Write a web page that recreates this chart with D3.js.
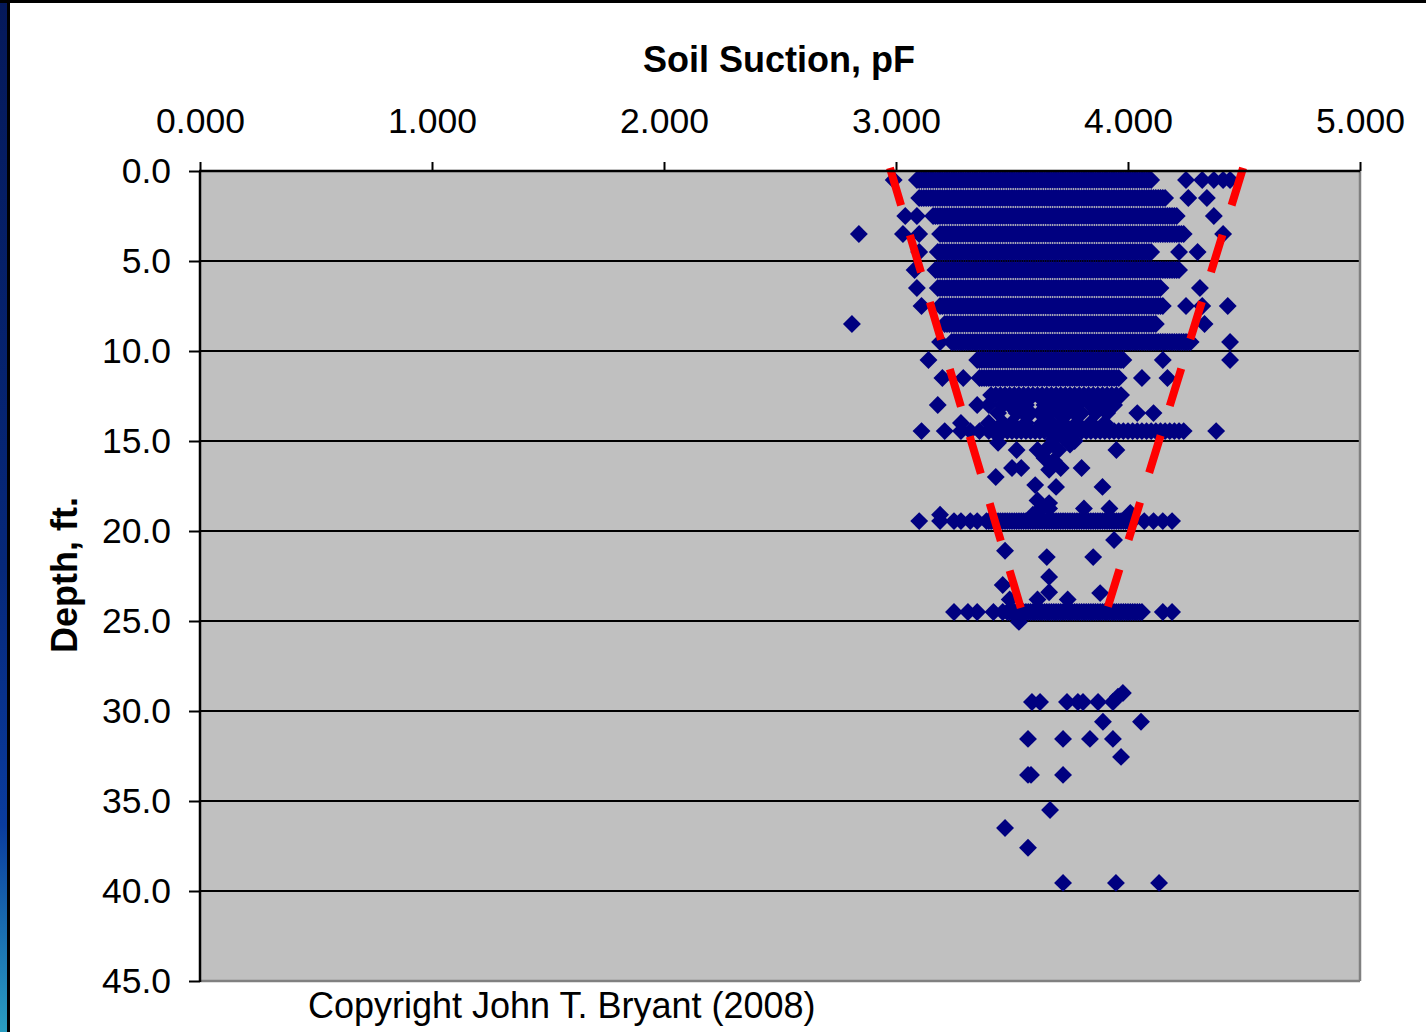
<!DOCTYPE html>
<html>
<head>
<meta charset="utf-8">
<script src="https://cdn.jsdelivr.net/npm/d3@7"></script>
<style>
  html, body { margin: 0; padding: 0; background: #ffffff; }
  svg { display: block; }
  text { font-family: "Liberation Sans", Arial, sans-serif; fill: #000; }
</style>
</head>
<body>
<svg id="chart" width="1426" height="1032"></svg>
<script>
// Soil suction (pF) readings by depth (ft), recorded to 0.01 pF. Shallow depths
// were sampled in one-foot intervals; each list holds the readings at that depth.
const suction_0_5 = [2.99,
  3.09, 3.10, 3.11, 3.12, 3.13, 3.14, 3.15, 3.16, 3.17, 3.18, 3.19, 3.20, 3.21, 3.22, 3.23, 3.24, 3.25, 3.26, 3.27, 3.28, 3.29,
  3.30, 3.31, 3.32, 3.33, 3.34, 3.35, 3.36, 3.37, 3.38, 3.39, 3.40, 3.41, 3.42, 3.43, 3.44, 3.45, 3.46, 3.47, 3.48, 3.49,
  3.50, 3.51, 3.52, 3.53, 3.54, 3.55, 3.56, 3.57, 3.58, 3.59, 3.60, 3.61, 3.62, 3.63, 3.64, 3.65, 3.66, 3.67, 3.68, 3.69,
  3.70, 3.71, 3.72, 3.73, 3.74, 3.75, 3.76, 3.77, 3.78, 3.79, 3.80, 3.81, 3.82, 3.83, 3.84, 3.85, 3.86, 3.87, 3.88, 3.89,
  3.90, 3.91, 3.92, 3.93, 3.94, 3.95, 3.96, 3.97, 3.98, 3.99, 4.00, 4.01, 4.02, 4.03, 4.04, 4.05, 4.06, 4.07, 4.08, 4.09, 4.10,
  4.25, 4.32, 4.37, 4.41, 4.44];
const suction_1_5 = [
  3.10, 3.11, 3.12, 3.13, 3.14, 3.15, 3.16, 3.17, 3.18, 3.19, 3.20, 3.21, 3.22, 3.23, 3.24, 3.25, 3.26, 3.27, 3.28, 3.29,
  3.30, 3.31, 3.32, 3.33, 3.34, 3.35, 3.36, 3.37, 3.38, 3.39, 3.40, 3.41, 3.42, 3.43, 3.44, 3.45, 3.46, 3.47, 3.48, 3.49,
  3.50, 3.51, 3.52, 3.53, 3.54, 3.55, 3.56, 3.57, 3.58, 3.59, 3.60, 3.61, 3.62, 3.63, 3.64, 3.65, 3.66, 3.67, 3.68, 3.69,
  3.70, 3.71, 3.72, 3.73, 3.74, 3.75, 3.76, 3.77, 3.78, 3.79, 3.80, 3.81, 3.82, 3.83, 3.84, 3.85, 3.86, 3.87, 3.88, 3.89,
  3.90, 3.91, 3.92, 3.93, 3.94, 3.95, 3.96, 3.97, 3.98, 3.99, 4.00, 4.01, 4.02, 4.03, 4.04, 4.05, 4.06, 4.07, 4.08, 4.09,
  4.10, 4.11, 4.12, 4.13, 4.14, 4.15, 4.16,
  4.26, 4.34];
const suction_2_5 = [3.04, 3.09,
  3.16, 3.17, 3.18, 3.19, 3.20, 3.21, 3.22, 3.23, 3.24, 3.25, 3.26, 3.27, 3.28, 3.29,
  3.30, 3.31, 3.32, 3.33, 3.34, 3.35, 3.36, 3.37, 3.38, 3.39, 3.40, 3.41, 3.42, 3.43, 3.44, 3.45, 3.46, 3.47, 3.48, 3.49,
  3.50, 3.51, 3.52, 3.53, 3.54, 3.55, 3.56, 3.57, 3.58, 3.59, 3.60, 3.61, 3.62, 3.63, 3.64, 3.65, 3.66, 3.67, 3.68, 3.69,
  3.70, 3.71, 3.72, 3.73, 3.74, 3.75, 3.76, 3.77, 3.78, 3.79, 3.80, 3.81, 3.82, 3.83, 3.84, 3.85, 3.86, 3.87, 3.88, 3.89,
  3.90, 3.91, 3.92, 3.93, 3.94, 3.95, 3.96, 3.97, 3.98, 3.99, 4.00, 4.01, 4.02, 4.03, 4.04, 4.05, 4.06, 4.07, 4.08, 4.09,
  4.10, 4.11, 4.12, 4.13, 4.14, 4.15, 4.16, 4.17, 4.18, 4.19, 4.20, 4.21,
  4.37];
const suction_3_5 = [2.84, 3.03, 3.10,
  3.19, 3.20, 3.21, 3.22, 3.23, 3.24, 3.25, 3.26, 3.27, 3.28, 3.29,
  3.30, 3.31, 3.32, 3.33, 3.34, 3.35, 3.36, 3.37, 3.38, 3.39, 3.40, 3.41, 3.42, 3.43, 3.44, 3.45, 3.46, 3.47, 3.48, 3.49,
  3.50, 3.51, 3.52, 3.53, 3.54, 3.55, 3.56, 3.57, 3.58, 3.59, 3.60, 3.61, 3.62, 3.63, 3.64, 3.65, 3.66, 3.67, 3.68, 3.69,
  3.70, 3.71, 3.72, 3.73, 3.74, 3.75, 3.76, 3.77, 3.78, 3.79, 3.80, 3.81, 3.82, 3.83, 3.84, 3.85, 3.86, 3.87, 3.88, 3.89,
  3.90, 3.91, 3.92, 3.93, 3.94, 3.95, 3.96, 3.97, 3.98, 3.99, 4.00, 4.01, 4.02, 4.03, 4.04, 4.05, 4.06, 4.07, 4.08, 4.09,
  4.10, 4.11, 4.12, 4.13, 4.14, 4.15, 4.16, 4.17, 4.18, 4.19, 4.20, 4.21, 4.22, 4.23, 4.24,
  4.41];
const suction_4_5 = [3.10,
  3.18, 3.19, 3.20, 3.21, 3.22, 3.23, 3.24, 3.25, 3.26, 3.27, 3.28, 3.29,
  3.30, 3.31, 3.32, 3.33, 3.34, 3.35, 3.36, 3.37, 3.38, 3.39, 3.40, 3.41, 3.42, 3.43, 3.44, 3.45, 3.46, 3.47, 3.48, 3.49,
  3.50, 3.51, 3.52, 3.53, 3.54, 3.55, 3.56, 3.57, 3.58, 3.59, 3.60, 3.61, 3.62, 3.63, 3.64, 3.65, 3.66, 3.67, 3.68, 3.69,
  3.70, 3.71, 3.72, 3.73, 3.74, 3.75, 3.76, 3.77, 3.78, 3.79, 3.80, 3.81, 3.82, 3.83, 3.84, 3.85, 3.86, 3.87, 3.88, 3.89,
  3.90, 3.91, 3.92, 3.93, 3.94, 3.95, 3.96, 3.97, 3.98, 3.99, 4.00, 4.01, 4.02, 4.03, 4.04, 4.05, 4.06, 4.07, 4.08, 4.09, 4.10,
  4.22, 4.30];
const suction_5_5 = [3.08,
  3.17, 3.18, 3.19, 3.20, 3.21, 3.22, 3.23, 3.24, 3.25, 3.26, 3.27, 3.28, 3.29,
  3.30, 3.31, 3.32, 3.33, 3.34, 3.35, 3.36, 3.37, 3.38, 3.39, 3.40, 3.41, 3.42, 3.43, 3.44, 3.45, 3.46, 3.47, 3.48, 3.49,
  3.50, 3.51, 3.52, 3.53, 3.54, 3.55, 3.56, 3.57, 3.58, 3.59, 3.60, 3.61, 3.62, 3.63, 3.64, 3.65, 3.66, 3.67, 3.68, 3.69,
  3.70, 3.71, 3.72, 3.73, 3.74, 3.75, 3.76, 3.77, 3.78, 3.79, 3.80, 3.81, 3.82, 3.83, 3.84, 3.85, 3.86, 3.87, 3.88, 3.89,
  3.90, 3.91, 3.92, 3.93, 3.94, 3.95, 3.96, 3.97, 3.98, 3.99, 4.00, 4.01, 4.02, 4.03, 4.04, 4.05, 4.06, 4.07, 4.08, 4.09,
  4.10, 4.11, 4.12, 4.13, 4.14, 4.15, 4.16, 4.17, 4.18, 4.19, 4.20, 4.21, 4.22];
const suction_6_5 = [3.09,
  3.18, 3.19, 3.20, 3.21, 3.22, 3.23, 3.24, 3.25, 3.26, 3.27, 3.28, 3.29,
  3.30, 3.31, 3.32, 3.33, 3.34, 3.35, 3.36, 3.37, 3.38, 3.39, 3.40, 3.41, 3.42, 3.43, 3.44, 3.45, 3.46, 3.47, 3.48, 3.49,
  3.50, 3.51, 3.52, 3.53, 3.54, 3.55, 3.56, 3.57, 3.58, 3.59, 3.60, 3.61, 3.62, 3.63, 3.64, 3.65, 3.66, 3.67, 3.68, 3.69,
  3.70, 3.71, 3.72, 3.73, 3.74, 3.75, 3.76, 3.77, 3.78, 3.79, 3.80, 3.81, 3.82, 3.83, 3.84, 3.85, 3.86, 3.87, 3.88, 3.89,
  3.90, 3.91, 3.92, 3.93, 3.94, 3.95, 3.96, 3.97, 3.98, 3.99, 4.00, 4.01, 4.02, 4.03, 4.04, 4.05, 4.06, 4.07, 4.08, 4.09,
  4.10, 4.11, 4.12, 4.13, 4.14,
  4.31];
const suction_7_5 = [3.11,
  3.19, 3.20, 3.21, 3.22, 3.23, 3.24, 3.25, 3.26, 3.27, 3.28, 3.29,
  3.30, 3.31, 3.32, 3.33, 3.34, 3.35, 3.36, 3.37, 3.38, 3.39, 3.40, 3.41, 3.42, 3.43, 3.44, 3.45, 3.46, 3.47, 3.48, 3.49,
  3.50, 3.51, 3.52, 3.53, 3.54, 3.55, 3.56, 3.57, 3.58, 3.59, 3.60, 3.61, 3.62, 3.63, 3.64, 3.65, 3.66, 3.67, 3.68, 3.69,
  3.70, 3.71, 3.72, 3.73, 3.74, 3.75, 3.76, 3.77, 3.78, 3.79, 3.80, 3.81, 3.82, 3.83, 3.84, 3.85, 3.86, 3.87, 3.88, 3.89,
  3.90, 3.91, 3.92, 3.93, 3.94, 3.95, 3.96, 3.97, 3.98, 3.99, 4.00, 4.01, 4.02, 4.03, 4.04, 4.05, 4.06, 4.07, 4.08, 4.09,
  4.10, 4.11, 4.12, 4.13, 4.14, 4.15,
  4.25, 4.32, 4.43];
const suction_8_5 = [2.81,
  3.21, 3.22, 3.23, 3.24, 3.25, 3.26, 3.27, 3.28, 3.29,
  3.30, 3.31, 3.32, 3.33, 3.34, 3.35, 3.36, 3.37, 3.38, 3.39, 3.40, 3.41, 3.42, 3.43, 3.44, 3.45, 3.46, 3.47, 3.48, 3.49,
  3.50, 3.51, 3.52, 3.53, 3.54, 3.55, 3.56, 3.57, 3.58, 3.59, 3.60, 3.61, 3.62, 3.63, 3.64, 3.65, 3.66, 3.67, 3.68, 3.69,
  3.70, 3.71, 3.72, 3.73, 3.74, 3.75, 3.76, 3.77, 3.78, 3.79, 3.80, 3.81, 3.82, 3.83, 3.84, 3.85, 3.86, 3.87, 3.88, 3.89,
  3.90, 3.91, 3.92, 3.93, 3.94, 3.95, 3.96, 3.97, 3.98, 3.99, 4.00, 4.01, 4.02, 4.03, 4.04, 4.05, 4.06, 4.07, 4.08, 4.09,
  4.10, 4.11, 4.12,
  4.33];
const suction_9_5 = [3.19,
  3.24, 3.25, 3.26, 3.27, 3.28, 3.29,
  3.30, 3.31, 3.32, 3.33, 3.34, 3.35, 3.36, 3.37, 3.38, 3.39, 3.40, 3.41, 3.42, 3.43, 3.44, 3.45, 3.46, 3.47, 3.48, 3.49,
  3.50, 3.51, 3.52, 3.53, 3.54, 3.55, 3.56, 3.57, 3.58, 3.59, 3.60, 3.61, 3.62, 3.63, 3.64, 3.65, 3.66, 3.67, 3.68, 3.69,
  3.70, 3.71, 3.72, 3.73, 3.74, 3.75, 3.76, 3.77, 3.78, 3.79, 3.80, 3.81, 3.82, 3.83, 3.84, 3.85, 3.86, 3.87, 3.88, 3.89,
  3.90, 3.91, 3.92, 3.93, 3.94, 3.95, 3.96, 3.97, 3.98, 3.99, 4.00, 4.01, 4.02, 4.03, 4.04, 4.05, 4.06, 4.07, 4.08, 4.09,
  4.10, 4.11, 4.12, 4.13, 4.14, 4.15, 4.16, 4.17, 4.18, 4.19, 4.20, 4.21, 4.22, 4.23, 4.24, 4.25, 4.26, 4.27,
  4.44];
const suction_10_5 = [3.14,
  3.35, 3.36, 3.37, 3.38, 3.39, 3.40, 3.41, 3.42, 3.43, 3.44, 3.45, 3.46, 3.47, 3.48, 3.49,
  3.50, 3.51, 3.52, 3.53, 3.54, 3.55, 3.56, 3.57, 3.58, 3.59, 3.60, 3.61, 3.62, 3.63, 3.64, 3.65, 3.66, 3.67, 3.68, 3.69,
  3.70, 3.71, 3.72, 3.73, 3.74, 3.75, 3.76, 3.77, 3.78, 3.79, 3.80, 3.81, 3.82, 3.83, 3.84, 3.85, 3.86, 3.87, 3.88, 3.89,
  3.90, 3.91, 3.92, 3.93, 3.94, 3.95, 3.96, 3.97, 3.98,
  4.15, 4.44];
const suction_11_5 = [3.20, 3.29,
  3.36, 3.37, 3.38, 3.39, 3.40, 3.41, 3.42, 3.43, 3.44, 3.45, 3.46, 3.47, 3.48, 3.49,
  3.50, 3.51, 3.52, 3.53, 3.54, 3.55, 3.56, 3.57, 3.58, 3.59, 3.60, 3.61, 3.62, 3.63, 3.64, 3.65, 3.66, 3.67, 3.68, 3.69,
  3.70, 3.71, 3.72, 3.73, 3.74, 3.75, 3.76, 3.77, 3.78, 3.79, 3.80, 3.81, 3.82, 3.83, 3.84, 3.85, 3.86, 3.87, 3.88, 3.89,
  3.90, 3.91, 3.92, 3.93, 3.94, 3.95, 3.96,
  4.06, 4.17];
const suction_12_45 = [3.41, 3.43, 3.45, 3.47, 3.49, 3.51, 3.53, 3.55, 3.57, 3.59, 3.61, 3.63, 3.65, 3.67, 3.69,
  3.71, 3.73, 3.75, 3.77, 3.79, 3.81, 3.83, 3.85, 3.87, 3.89, 3.91, 3.93, 3.95, 3.97];
const suction_13_0 = [3.18, 3.35, 3.40, 3.46, 3.49, 3.52, 3.56, 3.64, 3.68, 3.72, 3.75, 3.78, 3.84, 3.88, 3.94];
const suction_13_45 = [3.44, 3.52, 3.55, 3.58, 3.62, 3.66, 3.70, 3.74, 3.77, 3.80, 3.86, 3.91, 4.04, 4.11];
const suction_14_0 = [3.28, 3.40, 3.46, 3.50, 3.56, 3.63, 3.67, 3.72, 3.78, 3.84, 3.90];
const suction_14_45 = [3.11, 3.21, 3.28, 3.32, 3.36,
  3.40, 3.42, 3.44, 3.46, 3.48, 3.50, 3.52, 3.54, 3.56, 3.58, 3.60, 3.62, 3.64, 3.66, 3.68, 3.70, 3.72, 3.74, 3.76, 3.78,
  3.80, 3.82, 3.84, 3.86, 3.88, 3.90, 3.92, 3.94, 3.96, 3.98, 4.00, 4.02, 4.04, 4.06, 4.08, 4.10, 4.12, 4.14, 4.16, 4.18,
  4.20, 4.22, 4.24, 4.38];
const suction_19_45 = [3.10, 3.19, 3.25, 3.28, 3.32, 3.35,
  3.39, 3.40, 3.41, 3.42, 3.43, 3.44, 3.45, 3.46, 3.47, 3.48, 3.49,
  3.50, 3.51, 3.52, 3.53, 3.54, 3.55, 3.56, 3.57, 3.58, 3.59, 3.60, 3.61, 3.62, 3.63, 3.64, 3.65, 3.66, 3.67, 3.68, 3.69,
  3.70, 3.71, 3.72, 3.73, 3.74, 3.75, 3.76, 3.77, 3.78, 3.79, 3.80, 3.81, 3.82, 3.83, 3.84, 3.85, 3.86, 3.87, 3.88, 3.89,
  3.90, 3.91, 3.92, 3.93, 3.94, 3.95, 3.96, 3.97, 3.98, 3.99, 4.00, 4.01, 4.02,
  4.07, 4.11, 4.15, 4.19];
const suction_24_5 = [3.25, 3.31, 3.35, 3.42, 3.46,
  3.48, 3.49, 3.50, 3.51, 3.52, 3.53, 3.54, 3.55, 3.56, 3.57, 3.58, 3.59, 3.60, 3.61, 3.62, 3.63, 3.64, 3.65, 3.66, 3.67, 3.68, 3.69,
  3.70, 3.71, 3.72, 3.73, 3.74, 3.75, 3.76, 3.77, 3.78, 3.79, 3.80, 3.81, 3.82, 3.83, 3.84, 3.85, 3.86, 3.87, 3.88, 3.89,
  3.90, 3.91, 3.92, 3.93, 3.94, 3.95, 3.96, 3.97, 3.98, 3.99, 4.00, 4.01, 4.02, 4.03, 4.04, 4.05, 4.06,
  4.15, 4.19];

const depthRows = [
  [0.5, suction_0_5], [1.5, suction_1_5], [2.5, suction_2_5], [3.5, suction_3_5],
  [4.5, suction_4_5], [5.5, suction_5_5], [6.5, suction_6_5], [7.5, suction_7_5],
  [8.5, suction_8_5], [9.5, suction_9_5], [10.5, suction_10_5], [11.5, suction_11_5],
  [12.45, suction_12_45], [13.0, suction_13_0], [13.45, suction_13_45],
  [14.0, suction_14_0], [14.45, suction_14_45], [19.45, suction_19_45], [24.5, suction_24_5]
];

// Individual readings as [suction pF, depth ft]
const scatteredPoints = [
  [3.44, 15.1], [3.52, 15.5], [3.61, 15.5], [3.66, 15.3], [3.70, 15.5], [3.75, 15.2], [3.95, 15.5],
  [3.68, 14.9], [3.72, 14.8], [3.77, 15.0], [3.64, 15.95], [3.68, 16.1],
  [3.43, 17.0], [3.50, 16.5], [3.54, 16.5], [3.66, 16.6], [3.71, 16.5], [3.80, 16.5],
  [3.60, 17.45], [3.69, 17.55], [3.89, 17.55], [3.61, 18.3], [3.62, 18.8], [3.66, 18.45],
  [3.19, 19.1], [3.59, 19.1], [3.66, 18.75], [3.81, 18.75], [3.92, 18.75], [4.01, 19.0],
  [3.94, 20.5], [3.47, 21.1], [3.65, 21.45], [3.85, 21.45], [3.46, 23.0], [3.66, 22.55],
  [3.88, 23.45], [3.49, 23.8], [3.61, 23.8], [3.66, 23.4], [3.74, 23.8], [3.53, 25.05],
  [3.586, 29.5], [3.621, 29.5], [3.737, 29.5], [3.784, 29.5], [3.806, 29.5], [3.871, 29.5],
  [3.935, 29.5], [3.957, 29.2], [3.978, 29.0], [3.892, 30.6], [4.056, 30.6],
  [3.569, 31.55], [3.720, 31.55], [3.836, 31.55], [3.935, 31.55], [3.970, 32.55],
  [3.569, 33.55], [3.582, 33.55], [3.720, 33.55], [3.664, 35.5], [3.470, 36.5],
  [3.569, 37.6], [3.720, 39.55], [3.948, 39.55], [4.134, 39.55]
];

// Dashed envelope bounding the suction range, as [pF, depth]
const envelopeLeft = [[2.974, -0.17], [3.543, 24.5]];
const envelopeRight = [[4.496, -0.17], [3.909, 24.39]];

const suctionTicks = [0, 1, 2, 3, 4, 5];
const depthTicks = [0, 5, 10, 15, 20, 25, 30, 35, 40, 45];
const gridDepths = [5, 10, 15, 20, 25, 30, 35, 40];

const xTitle = "Soil Suction, pF";
const yTitle = "Depth, ft.";
const footnote = "Copyright John T. Bryant (2008)";

// ---------------------------------------------------------------------------
const W = 1426, H = 1032;
const plot = { left: 200, top: 171, right: 1360, bottom: 981 };
const FONT = "'Liberation Sans', Arial, sans-serif";

const svg = d3.select("#chart");

// Slide frame: gradient strip on the left, thin dark rules
const defs = svg.append("defs");
const grad = defs.append("linearGradient").attr("id", "frameGrad")
  .attr("x1", 0).attr("y1", 0).attr("x2", 0).attr("y2", 1);
[[0, "#05195a"], [0.55, "#06287a"], [0.8, "#0a3c9e"], [1, "#2a9ec2"]].forEach(([o, c]) =>
  grad.append("stop").attr("offset", o).attr("stop-color", c));

svg.append("rect").attr("x", 0).attr("y", 0).attr("width", W).attr("height", H).attr("fill", "#fff");
svg.append("rect").attr("x", 0).attr("y", 0).attr("width", 8).attr("height", H).attr("fill", "url(#frameGrad)");
svg.append("rect").attr("x", 7).attr("y", 0).attr("width", 3).attr("height", H).attr("fill", "#000");
svg.append("rect").attr("x", 0).attr("y", 0).attr("width", W).attr("height", 3).attr("fill", "#000");

const x = d3.scaleLinear().domain([0, 5]).range([plot.left, plot.right]);
const y = d3.scaleLinear().domain([0, 45]).range([plot.top, plot.bottom]);

// Plot background
svg.append("rect")
  .attr("x", plot.left).attr("y", plot.top)
  .attr("width", plot.right - plot.left).attr("height", plot.bottom - plot.top)
  .attr("fill", "#c0c0c0");

// Horizontal gridlines
svg.append("g").selectAll("line").data(gridDepths).join("line")
  .attr("x1", plot.left).attr("x2", plot.right)
  .attr("y1", d => y(d)).attr("y2", d => y(d))
  .attr("stroke", "#000").attr("stroke-width", 2);

// Right and bottom plot borders
svg.append("line").attr("x1", plot.right).attr("x2", plot.right)
  .attr("y1", plot.top).attr("y2", plot.bottom)
  .attr("stroke", "#808080").attr("stroke-width", 2.5);
svg.append("line").attr("x1", plot.left).attr("x2", plot.right)
  .attr("y1", plot.bottom).attr("y2", plot.bottom)
  .attr("stroke", "#808080").attr("stroke-width", 2.5);

// Flatten readings into points
const points = [];
depthRows.forEach(([depth, values]) => values.forEach(v => points.push([v, depth])));
scatteredPoints.forEach(p => points.push(p));

const diamond = d3.symbol().type(d3.symbolSquare).size(160);
svg.append("g").selectAll("path").data(points).join("path")
  .attr("d", diamond)
  .attr("transform", d => `translate(${x(d[0])},${y(d[1])}) rotate(45)`)
  .attr("fill", "#000080");

// Envelope lines
const line = d3.line().x(d => x(d[0])).y(d => y(d[1]));
[envelopeLeft, envelopeRight].forEach(env =>
  svg.append("path").attr("d", line(env))
    .attr("fill", "none").attr("stroke", "#ff0000")
    .attr("stroke-width", 8).attr("stroke-dasharray", "39,31"));

// Axes
const xAxis = d3.axisTop(x).tickValues(suctionTicks).tickFormat(d3.format(".3f"))
  .tickSizeInner(9).tickSizeOuter(0).tickPadding(29);
const gx = svg.append("g").attr("transform", `translate(0,${plot.top})`).call(xAxis);
gx.select(".domain").remove();
gx.selectAll(".tick line").attr("stroke", "#000").attr("stroke-width", 2);
gx.selectAll(".tick text").attr("font-size", 35.5).attr("font-family", FONT).attr("fill", "#000");

const yAxis = d3.axisLeft(y).tickValues(depthTicks).tickFormat(d3.format(".1f"))
  .tickSizeInner(11).tickSizeOuter(0).tickPadding(18);
const gy = svg.append("g").attr("transform", `translate(${plot.left},0)`).call(yAxis);
gy.select(".domain").remove();
gy.selectAll(".tick line").attr("stroke", "#000").attr("stroke-width", 2);
gy.selectAll(".tick text").attr("font-size", 35.5).attr("font-family", FONT).attr("fill", "#000");

// Top and left axis lines
svg.append("line").attr("x1", plot.left - 1).attr("x2", plot.right)
  .attr("y1", plot.top).attr("y2", plot.top).attr("stroke", "#000").attr("stroke-width", 2.5);
svg.append("line").attr("x1", plot.left).attr("x2", plot.left)
  .attr("y1", plot.top).attr("y2", plot.bottom + 1).attr("stroke", "#000").attr("stroke-width", 2.5);

// Titles
svg.append("text").attr("x", 779).attr("y", 72).attr("text-anchor", "middle")
  .attr("font-size", 36).attr("font-weight", "bold").text(xTitle);
svg.append("text").attr("transform", "translate(77,575) rotate(-90)").attr("text-anchor", "middle")
  .attr("font-size", 36).attr("font-weight", "bold").text(yTitle);
svg.append("text").attr("x", 308).attr("y", 1018)
  .attr("font-size", 36).text(footnote);
</script>
</body>
</html>
